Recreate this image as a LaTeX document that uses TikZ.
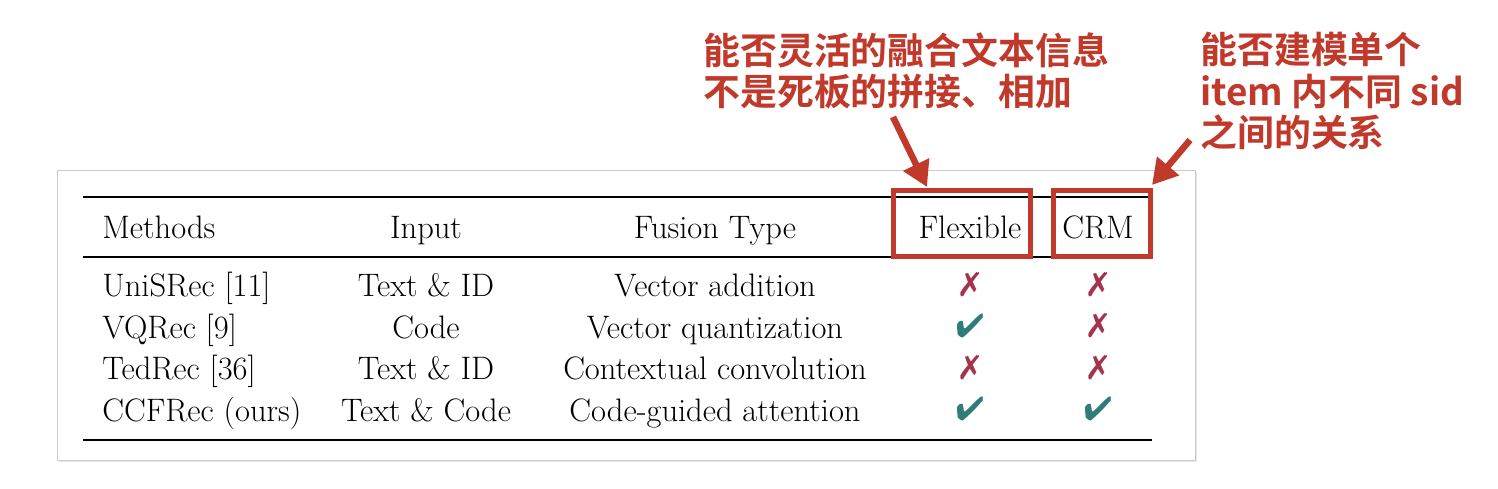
\documentclass[tikz,border=0pt]{standalone}
\usepackage{fontspec}
\usepackage{pifont}
\newfontfamily\cjk{Noto Sans CJK SC}[BoldFont={Noto Sans CJK SC Bold}]
\usepackage{tikz}
\usetikzlibrary{positioning, arrows.meta, shadows}
\definecolor{annoRed}{HTML}{C0392B}
\definecolor{crossRed}{HTML}{A3334E}
\definecolor{checkTeal}{HTML}{2F7C7A}
\tikzstyle{cellText}=[inner sep=0pt, anchor=base, font=\fontsize{18.5}{20}\selectfont]
\tikzstyle{markCell}=[inner sep=0pt, font=\fontsize{19}{20}\selectfont]
\tikzstyle{annoBox}=[draw=annoRed, line width=0.1cm]
\tikzstyle{annoText}=[inner sep=0pt, anchor=north west, align=left, text=annoRed, font=\cjk\bfseries\fontsize{21}{23.5}\selectfont]
\tikzstyle{annoArrow}=[-{Triangle[length=0.5cm,width=0.55cm]}, line width=0.13cm, annoRed]
\newcommand{\yes}{\textcolor{checkTeal}{\ding{52}}}
\newcommand{\no}{\textcolor{crossRed}{\ding{55}}}

\begin{document}
\begin{tikzpicture}[x=0.02cm, y=-0.02cm]
    \useasboundingbox (0,0) rectangle (1498,488);
    \fill[white] (0,0) rectangle (1498,488);

    % table card
    \draw[gray!40, fill=white, drop shadow={opacity=0.2, shadow xshift=0.04cm, shadow yshift=-0.04cm}] (57,170) rectangle (1195,460);
    \draw[line width=1.2pt] (83,197) -- (1152,197);
    \draw[line width=0.6pt] (83,257) -- (1152,257);
    \draw[line width=1.2pt] (83,440) -- (1152,440);

    % header
    \node[cellText, anchor=base west] (hMethods) at (102,238) {Methods};
    \node[cellText] (hInput) at (426,238) {Input};
    \node[cellText] (hFusion) at (715,238) {Fusion Type};
    \node[cellText] (hFlex) at (970,238) {Flexible};
    \node[cellText] (hCRM) at (1098,238) {CRM};

    % rows
    \foreach \name/\inp/\fus/\fl/\cr [count=\i] in {UniSRec [11]/Text \& ID/Vector addition/\no/\no,
        VQRec [9]/Code/Vector quantization/\yes/\no,
        TedRec [36]/Text \& ID/Contextual convolution/\no/\no,
        CCFRec (ours)/Text \& Code/Code-guided attention/\yes/\yes} {
        \node[cellText, anchor=base west] (m\i) at (102,255+41.5*\i) {\name};
        \node[cellText] (in\i) at (426,255+41.5*\i) {\inp};
        \node[cellText] (fu\i) at (715,255+41.5*\i) {\fus};
        \node[markCell] (fl\i) at (970,243+41.5*\i) {\fl};
        \node[markCell] (cr\i) at (1098,243+41.5*\i) {\cr};
    }

    % annotations
    \draw[annoBox] (893,190) rectangle (1030,256);
    \node[inner sep=0pt] (flexBox) at (961.5,223) {};
    \draw[annoBox] (1053,190) rectangle (1150,256);
    \node[inner sep=0pt] (crmBox) at (1101.5,223) {};

    \node[annoText] (noteFlex) at (703,32) {能否灵活的融合文本信息\\不是死板的拼接、相加};
    \node[annoText] (noteCRM) at (1200,32) {能否建模单个\\item 内不同 sid\\之间的关系};

    \coordinate (fromFlex) at (893,117);
    \coordinate (toFlex) at (927,187);
    \coordinate (fromCRM) at (1190,140);
    \coordinate (toCRM) at (1152,185);
    \draw[annoArrow] (fromFlex) -- (toFlex);
    \draw[annoArrow] (fromCRM) -- (toCRM);
\end{tikzpicture}
\end{document}
